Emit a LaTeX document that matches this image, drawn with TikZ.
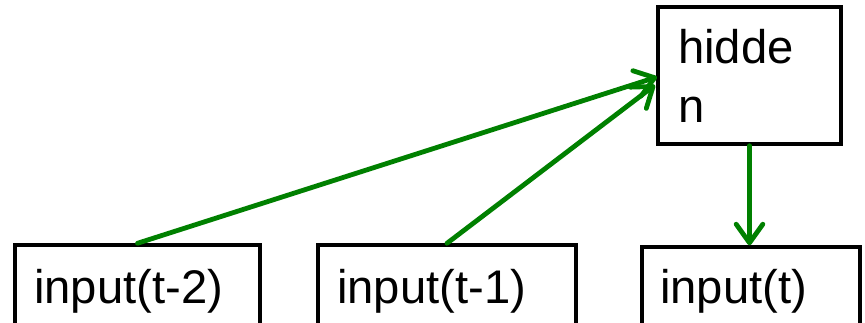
\documentclass[tikz,border=0pt]{standalone}
\usepackage{fontspec}
\setmainfont{Liberation Sans}
\usetikzlibrary{arrows.meta}
\definecolor{arrgreen}{RGB}{0,128,0}
\tikzset{
  box/.style={draw=black, line width=2.6pt, fill=white, inner sep=0pt},
  txt/.style={inner sep=0pt, font=\fontsize{35.4pt}{44.25pt}\selectfont, text=black},
  link/.style={draw=arrgreen, line width=3.6pt, line cap=round,
    -{Straight Barb[length=14pt, width=20pt, line cap=round, round]}}
}
\begin{document}
\begin{tikzpicture}[x=0.75pt, y=-0.75pt]
\useasboundingbox (0,0) rectangle (865,322);
\clip (0,0) rectangle (865,322);
\node[box, minimum width={183*0.75pt}, minimum height={137*0.75pt}] (hidden) at (749.5,75.5) {};
\node[txt, anchor=north west, align=left] (hiddenlabel) at (678,29) {hidde\\n};
\node[box, minimum width={245*0.75pt}, minimum height={95*0.75pt}] (a2) at (137.5,292.5) {};
\node[box, minimum width={258*0.75pt}, minimum height={95*0.75pt}] (a1) at (447,292.5) {};
\node[box, minimum width={218*0.75pt}, minimum height={93*0.75pt}] (a0) at (751,293.5) {};
\node[txt, anchor=base west] (t2) at (34,303) {input(t-2)};
\node[txt, anchor=base west] (t1) at (337,303) {input(t-1)};
\node[txt, anchor=base west] (t0) at (660,303) {input(t)};
\coordinate (h1) at (657,77);
\coordinate (h2) at (655,85);
\draw[link] (a2.north) -- (h1);
\draw[link] (a1.north) -- (h2);
\draw[link] (hidden.south) -- (hidden.south |- a0.north);
\end{tikzpicture}
\end{document}
